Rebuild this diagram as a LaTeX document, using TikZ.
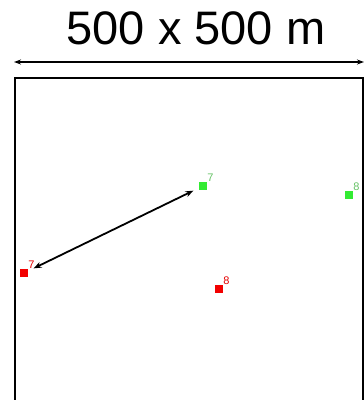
\documentclass[tikz,border=0pt]{standalone}
\usepackage{fontspec}
\setmainfont{Liberation Sans}
\usetikzlibrary{arrows.meta,positioning}
\begin{document}
\begin{tikzpicture}[x=1pt,y=-1pt,
    greenbox/.style={fill=green!90!black!80, minimum size=8pt, inner sep=0pt},
    redbox/.style={fill=red!95!black, minimum size=8pt, inner sep=0pt},
    greenlabel/.style={text=green!60!black!60, font=\fontsize{11}{11}\selectfont, inner sep=0pt},
    redlabel/.style={text=red!90!black, font=\fontsize{11}{11}\selectfont, inner sep=0pt}]
    % Canvas
    \useasboundingbox (0,0) rectangle (364,400);

    % Title and width arrow
    \node[font=\fontsize{47}{47}\selectfont] (title) at (196,28) {500 x 500 m};
    \coordinate (wl) at (14,62);
    \coordinate (wr) at (364,62);
    \draw[line width=1.8pt, {Stealth[length=7pt,width=5pt]}-{Stealth[length=7pt,width=5pt]}] (wl) -- (wr);

    % Area boundary (open at the bottom)
    \draw[line width=2pt] (15,402) -- (15,78) -- (363,78) -- (363,402);

    % Nodes
    \node[greenbox] (g7) at (203,186) {};
    \node[greenlabel, above right=0pt and 0pt of g7] (g7l) {7};
    \node[greenbox] (g8) at (349,195) {};
    \node[greenlabel, above right=0pt and 0pt of g8] (g8l) {8};
    \node[redbox] (r7) at (24,273) {};
    \node[redlabel, above right=0pt and 0pt of r7] (r7l) {7};
    \node[redbox] (r8) at (219,289) {};
    \node[redlabel, above right=0pt and 0pt of r8] (r8l) {8};

    % Link
    \draw[line width=1.8pt, {Stealth[length=8pt,width=6pt]}-{Stealth[length=8pt,width=6pt]},
      shorten <=6pt, shorten >=6pt] (g7) -- (r7);
\end{tikzpicture}
\end{document}
